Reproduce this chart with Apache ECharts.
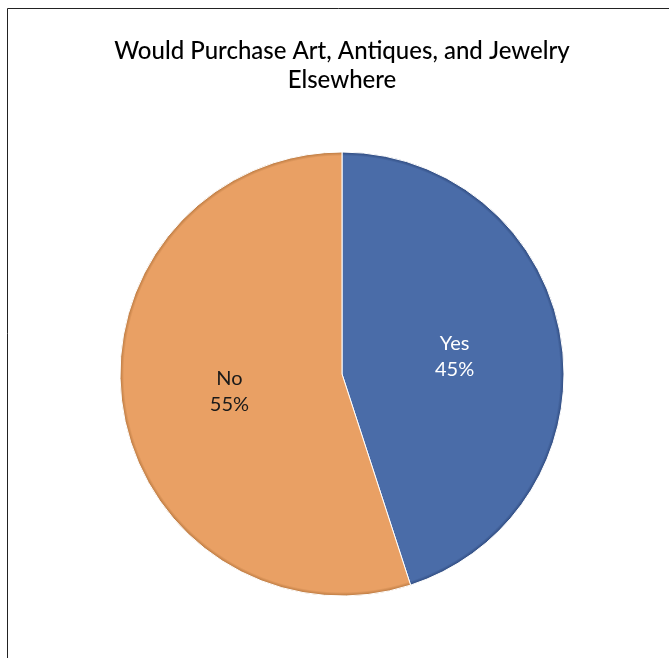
<!DOCTYPE html>
<html>
<head>
<meta charset="utf-8">
<script src="https://cdn.jsdelivr.net/npm/echarts@6/dist/echarts.min.js"></script>
<style>
  html, body { margin: 0; padding: 0; background: #ffffff; }
  #chart { width: 669px; height: 658px; }
</style>
</head>
<body>
<div id="chart"></div>
<script>
// Survey answers and their shares (percent)
const categories = ['Yes', 'No'];
const shares = [45, 55];
const sliceColors = ['#4a6ca8', '#e9a064'];
const rimColors = ['#2f4a7e', '#b9783f'];
const labelColors = ['#ffffff', '#1a1a1a'];

const CX = 342, CY = 374, R = 222;

// Slight bevel: each slice darkens toward its outer rim
function rimFill(i) {
  return new echarts.graphic.RadialGradient(CX, CY, R, [
    { offset: 0, color: sliceColors[i] },
    { offset: 0.982, color: sliceColors[i] },
    { offset: 1, color: rimColors[i] }
  ], true);
}

const chart = echarts.init(document.getElementById('chart'));

chart.setOption({
  backgroundColor: '#ffffff',
  animation: false,
  title: {
    text: 'Would Purchase Art, Antiques, and Jewelry\nElsewhere',
    left: 337,
    textAlign: 'center',
    top: 32,
    textStyle: {
      fontFamily: 'Lato',
      fontWeight: 500,
      fontSize: 24,
      lineHeight: 29,
      color: '#000000'
    }
  },
  graphic: [{
    type: 'polyline',
    shape: { points: [[7.5, 658], [7.5, 8.5], [669, 8.5]] },
    style: { stroke: '#222222', lineWidth: 1, fill: null },
    silent: true
  }],
  series: [{
    type: 'pie',
    center: [CX, CY],
    radius: R,
    startAngle: 90,
    clockwise: true,
    data: categories.map((name, i) => ({
      name,
      value: shares[i],
      itemStyle: { color: rimFill(i) },
      label: { color: labelColors[i] }
    })),
    itemStyle: {
      borderColor: '#ffffff',
      borderWidth: 1
    },
    label: {
      show: true,
      position: 'inside',
      formatter: p => p.name + '\n' + p.value + '%',
      fontFamily: 'Lato',
      fontSize: 20,
      lineHeight: 26,
      align: 'center'
    },
    labelLine: { show: false },
    emphasis: { disabled: true }
  }]
});
</script>
</body>
</html>
